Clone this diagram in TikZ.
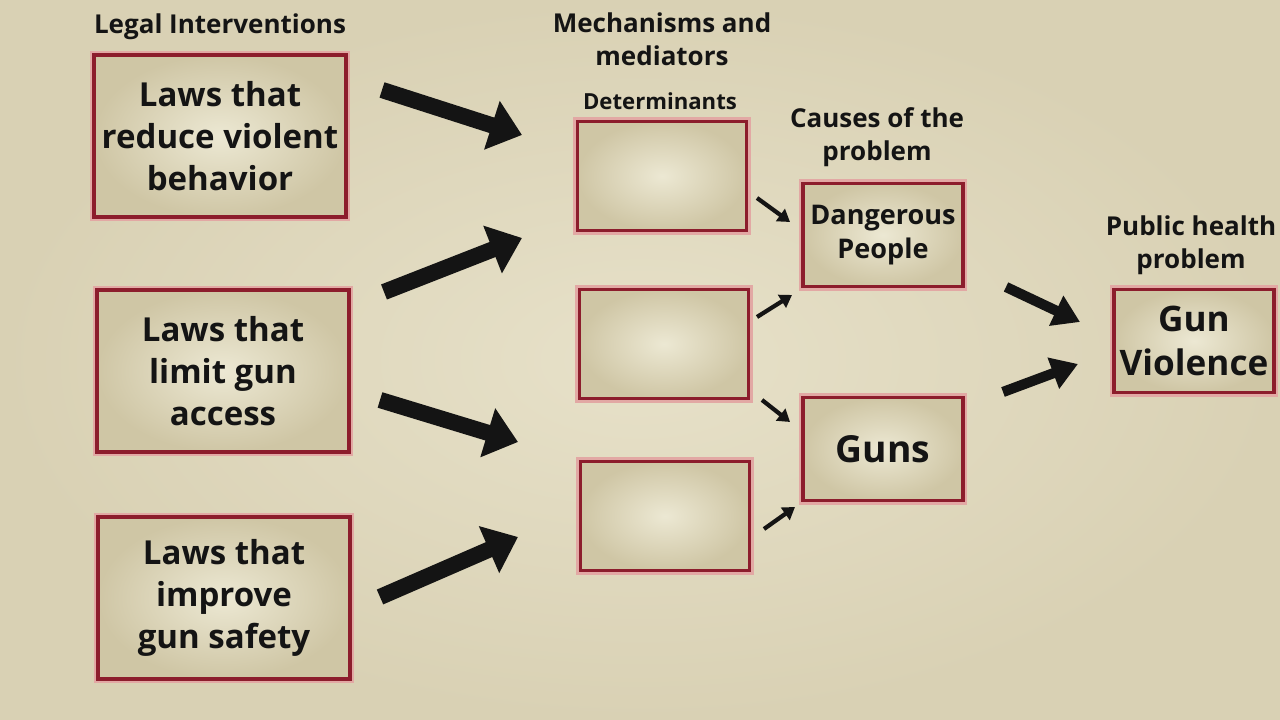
\documentclass[tikz,border=0pt]{standalone}
\usepackage{fontspec}
\setmainfont{Open Sans}
\usepackage{tikz}
\usetikzlibrary{arrows.meta}
\definecolor{parchment}{HTML}{E7E1C9}
\definecolor{parchmentdark}{HTML}{D9D1B4}
\definecolor{boxlight}{HTML}{ECE8D3}
\definecolor{boxdark}{HTML}{CFC6A5}
\definecolor{framered}{HTML}{8C1D2C}
\definecolor{glowpink}{HTML}{E2A8A4}
\definecolor{ink}{HTML}{141414}
\tikzset{
  panel/.style={draw=framered, line width=0.9pt, inner color=boxlight, outer color=boxdark, align=center, inner sep=0pt, text=ink, preaction={draw=glowpink, line width=2.4pt}},
  lawbox/.style={panel, minimum width=25.2mm, minimum height=16.2mm, font=\fontsize{9.4}{12}\bfseries},
  detbox/.style={panel, minimum width=16.9mm, minimum height=10.9mm},
  causebox/.style={panel, minimum width=16mm, minimum height=10.3mm},
  heading/.style={align=center, text=ink, font=\fontsize{7.4}{9.4}\bfseries},
  bigarrow/.style={-{Triangle[length=9pt, width=14pt]}, line width=4.6pt, draw=ink},
  midarrow/.style={-{Triangle[length=7.5pt, width=9pt]}, line width=2.9pt, draw=ink},
  smallarrow/.style={-{Triangle[length=3.4pt, width=4.2pt]}, line width=1.2pt, draw=ink}
}
\begin{document}
\begin{tikzpicture}
  \shade[inner color=parchment, outer color=parchmentdark] (0,0) rectangle (12.8,7.2);
  \useasboundingbox (0,0) rectangle (12.8,7.2);

  \node[heading] (legalhead) at (2.20,6.93) {Legal Interventions};
  \node[heading] (mechhead) at (6.62,6.81) {Mechanisms and\\mediators};
  \node[heading, font=\fontsize{6.3}{8}\bfseries] (dethead) at (6.60,6.19) {Determinants};
  \node[heading] (causehead) at (8.77,5.83) {Causes of the\\problem};
  \node[heading] (publichead) at (11.91,4.75) {Public health\\problem};

  \node[lawbox] (lawviolent) at (2.20,5.84) {Laws that\\reduce violent\\behavior};
  \node[lawbox] (lawaccess) at (2.23,3.49) {Laws that\\limit gun\\access};
  \node[lawbox] (lawsafety) at (2.24,1.22) {Laws that\\improve\\gun safety};

  \node[detbox] (detone) at (6.62,5.44) {};
  \node[detbox] (dettwo) at (6.64,3.76) {};
  \node[detbox] (detthree) at (6.65,2.04) {};

  \node[causebox, font=\fontsize{7.7}{9.7}\bfseries] (people) at (8.83,4.85) {Dangerous\\People};
  \node[causebox, font=\fontsize{10.6}{14}\bfseries] (guns) at (8.83,2.71) {Guns};
  \node[causebox, font=\fontsize{10}{12.3}\bfseries] (violence) at (11.94,3.79) {Gun\\Violence};

  \coordinate (aviolentfrom) at (3.82,6.30);
  \coordinate (aviolentto) at (5.22,5.85);
  \coordinate (aaccessfromup) at (3.84,4.28);
  \coordinate (aaccesstoup) at (5.22,4.82);
  \coordinate (aaccessfromdown) at (3.80,3.20);
  \coordinate (aaccesstodown) at (5.18,2.78);
  \coordinate (asafetyfrom) at (3.80,1.23);
  \coordinate (asafetyto) at (5.18,1.83);

  \draw[bigarrow] (aviolentfrom) -- (aviolentto);
  \draw[bigarrow] (aaccessfromup) -- (aaccesstoup);
  \draw[bigarrow] (aaccessfromdown) -- (aaccesstodown);
  \draw[bigarrow] (asafetyfrom) -- (asafetyto);

  \coordinate (sonefrom) at (7.57,5.22);
  \coordinate (soneto) at (7.90,4.98);
  \coordinate (stwofrom) at (7.57,4.03);
  \coordinate (stwoto) at (7.92,4.25);
  \coordinate (sthreefrom) at (7.62,3.20);
  \coordinate (sthreeto) at (7.90,2.98);
  \coordinate (sfourfrom) at (7.64,1.91);
  \coordinate (sfourto) at (7.95,2.13);

  \draw[smallarrow] (sonefrom) -- (soneto);
  \draw[smallarrow] (stwofrom) -- (stwoto);
  \draw[smallarrow] (sthreefrom) -- (sthreeto);
  \draw[smallarrow] (sfourfrom) -- (sfourto);

  \coordinate (mpeoplefrom) at (10.06,4.33);
  \coordinate (mpeopleto) at (10.80,3.98);
  \coordinate (mgunsfrom) at (10.03,3.28);
  \coordinate (mgunsto) at (10.78,3.56);

  \draw[midarrow] (mpeoplefrom) -- (mpeopleto);
  \draw[midarrow] (mgunsfrom) -- (mgunsto);
\end{tikzpicture}
\end{document}
